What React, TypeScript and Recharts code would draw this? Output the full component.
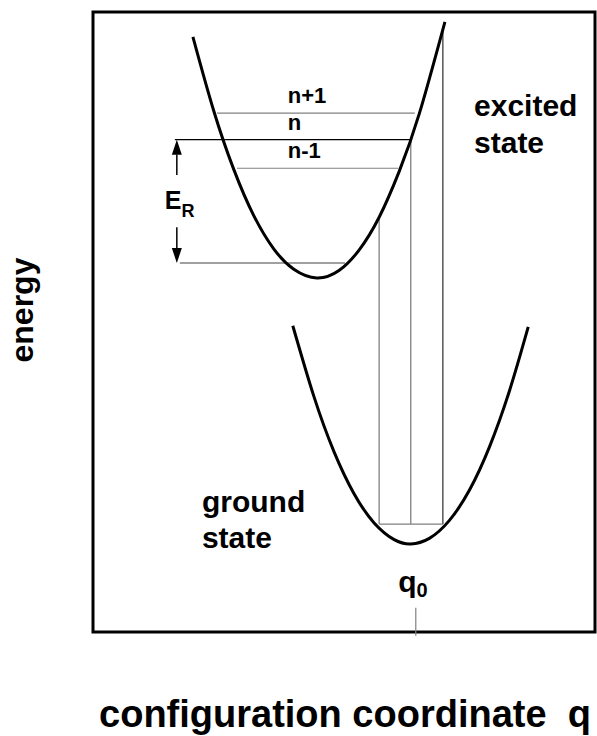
import React from 'react';
import { ComposedChart, XAxis, YAxis, Line, ReferenceLine, ReferenceArea, ReferenceDot } from 'recharts';

// configuration coordinate q (0..100) and energy E (0..100)
const excitedQ = [19.9, 24, 28, 32, 36, 40, 44.6, 49, 53, 57, 61, 65, 70.1];
const excitedE = [96.0, 84.2, 74.7, 67.2, 61.8, 58.5, 57.1, 58.3, 61.6, 66.9, 74.3, 83.6, 98.4];
const groundQ = [39.8, 44, 48, 52, 56, 60, 63.3, 67, 71, 75, 79, 83, 86.7];
const groundE = [49.4, 38.0, 29.1, 22.3, 17.6, 14.9, 14.2, 15.1, 18.0, 22.9, 29.9, 39.0, 49.2];

const levelLabels = ['n+1', 'n', 'n-1'];
const levelE = [83.7, 79.4, 74.8];
const levelLeftQ = [24.7, 16.3, 28.7];
const levelRightQ = [64.1, 63.1, 60.8];

const relaxedE = 59.5;
const relaxedQ = [17.3, 50.2];

const transitionQ = [57.0, 63.3, 69.7];
const transitionTopE = [66.9, 79.4, 97.0];
const groundLevelE = 17.4;
const groundLevelQ = [57.0, 69.7];

const q0 = 64.3;
const q0TickE = [3.9, -0.6];

const erArrowQ = 16.7;

const excitedCurve = excitedQ.map((q, i) => ({ q, E: excitedE[i] }));
const groundCurve = groundQ.map((q, i) => ({ q, E: groundE[i] }));

const FONT = '"Liberation Sans", Arial, Helvetica, sans-serif';
const GRAY = '#808080';

const txt = (content: React.ReactNode, size: number, anchor: string = 'start') => (p: any) => (
  <text x={p.cx} y={p.cy} fontSize={size} fontWeight={700} fontFamily={FONT} textAnchor={anchor} fill="#000">
    {content}
  </text>
);

const arrowHead = (dir: number) => (p: any) => (
  <polygon
    points={`${p.cx},${p.cy} ${p.cx - 5},${p.cy + 15 * dir} ${p.cx + 5},${p.cy + 15 * dir}`}
    fill="#000"
  />
);

export default function App() {
  return (
    <div style={{ position: 'absolute', left: 0, top: 0 }}>
      <ComposedChart width={597} height={736} margin={{ top: 12, right: 2, bottom: 0, left: 0 }}>
        <XAxis
          type="number"
          dataKey="q"
          domain={[0, 100]}
          allowDataOverflow
          tick={false}
          tickLine={false}
          axisLine={false}
          height={104}
          label={(props: any) => {
            const vb = props.viewBox || { x: 93, y: 632, width: 502, height: 104 };
            return (
              <text
                x={vb.x + vb.width / 2 + 1}
                y={vb.y + 95}
                fontSize={38}
                fontWeight={700}
                fontFamily={FONT}
                textAnchor="middle"
                style={{ whiteSpace: 'pre' }}
                fill="#000"
              >
                configuration coordinate  q
              </text>
            );
          }}
        />
        <YAxis
          type="number"
          dataKey="E"
          domain={[0, 100]}
          allowDataOverflow
          tick={false}
          tickLine={false}
          axisLine={false}
          width={93}
          label={(props: any) => {
            const vb = props.viewBox || { x: 0, y: 12, width: 93, height: 620 };
            const cx = vb.x + 33;
            const cy = vb.y + vb.height / 2 - 12;
            return (
              <text
                x={cx}
                y={cy}
                transform={`rotate(-90 ${cx} ${cy})`}
                fontSize={32}
                fontWeight={700}
                fontFamily={FONT}
                textAnchor="middle"
                fill="#000"
              >
                energy
              </text>
            );
          }}
        />

        {levelE.map((e, i) => (
          <ReferenceLine
            key={'lvl' + i}
            segment={[{ x: levelLeftQ[i], y: e }, { x: levelRightQ[i], y: e }]}
            stroke={levelLabels[i] === 'n' ? '#000' : GRAY}
            strokeWidth={1.2}
          />
        ))}
        <ReferenceLine
          segment={[{ x: relaxedQ[0], y: relaxedE }, { x: relaxedQ[1], y: relaxedE }]}
          stroke={GRAY}
          strokeWidth={1.5}
        />
        {transitionQ.map((q, i) => (
          <ReferenceLine
            key={'tr' + i}
            segment={[{ x: q, y: transitionTopE[i] }, { x: q, y: groundLevelE }]}
            stroke={i === 2 ? '#000' : GRAY}
            strokeWidth={i === 2 ? 1 : 1.3}
          />
        ))}
        <ReferenceLine
          segment={[{ x: groundLevelQ[0], y: groundLevelE }, { x: groundLevelQ[1], y: groundLevelE }]}
          stroke={GRAY}
          strokeWidth={1.3}
        />
        <ReferenceLine
          segment={[{ x: q0, y: q0TickE[0] }, { x: q0, y: q0TickE[1] }]}
          stroke={GRAY}
          strokeWidth={1.2}
          ifOverflow="visible"
        />

        {/* E_R arrows */}
        <ReferenceLine segment={[{ x: erArrowQ, y: 73.7 }, { x: erArrowQ, y: 77.0 }]} stroke="#000" strokeWidth={1.5} />
        <ReferenceLine segment={[{ x: erArrowQ, y: 65.3 }, { x: erArrowQ, y: 61.9 }]} stroke="#000" strokeWidth={1.5} />
        <ReferenceDot x={erArrowQ} y={levelE[1]} r={1} shape={arrowHead(1)} />
        <ReferenceDot x={erArrowQ} y={relaxedE} r={1} shape={arrowHead(-1)} />

        <Line
          data={excitedCurve}
          dataKey="E"
          type="natural"
          stroke="#000"
          strokeWidth={3}
          dot={false}
          activeDot={false}
          isAnimationActive={false}
        />
        <Line
          data={groundCurve}
          dataKey="E"
          type="natural"
          stroke="#000"
          strokeWidth={3}
          dot={false}
          activeDot={false}
          isAnimationActive={false}
        />

        {/* labels */}
        <ReferenceDot x={38.8} y={85.3} r={1} shape={txt(levelLabels[0], 22)} />
        <ReferenceDot x={38.8} y={81.0} r={1} shape={txt(levelLabels[1], 22)} />
        <ReferenceDot x={38.8} y={76.5} r={1} shape={txt(levelLabels[2], 22)} />
        <ReferenceDot x={75.9} y={83.2} r={1} shape={txt('excited', 30)} />
        <ReferenceDot x={75.9} y={77.3} r={1} shape={txt('state', 30)} />
        <ReferenceDot x={21.7} y={19.4} r={1} shape={txt('ground', 30)} />
        <ReferenceDot x={21.7} y={13.5} r={1} shape={txt('state', 30)} />
        <ReferenceDot
          x={14.3}
          y={68.2}
          r={1}
          shape={txt(
            <>
              E<tspan fontSize={18} dy={8}>R</tspan>
            </>,
            25
          )}
        />
        <ReferenceDot
          x={60.8}
          y={6.5}
          r={1}
          shape={txt(
            <>
              q<tspan fontSize={20} dy={5}>0</tspan>
            </>,
            30
          )}
        />

        <ReferenceArea x1={0} x2={100} y1={0} y2={100} fill="none" stroke="#000" strokeWidth={3} ifOverflow="visible" />
      </ComposedChart>
    </div>
  );
}
